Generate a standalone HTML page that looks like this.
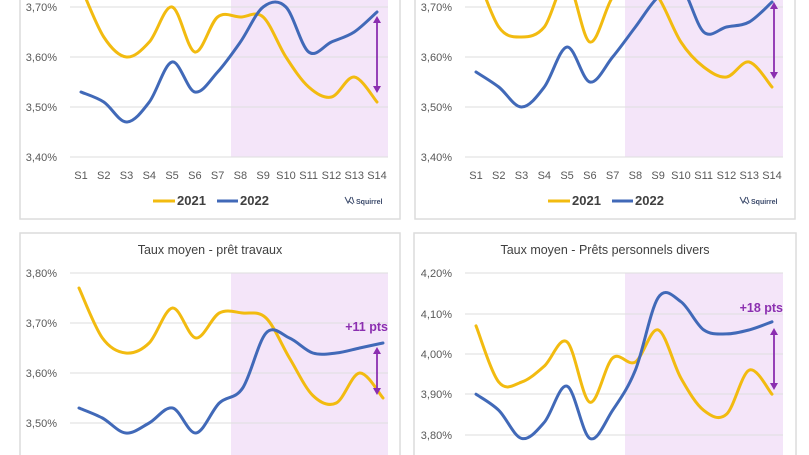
<!DOCTYPE html>
<html><head><meta charset="utf-8"><style>
html,body{margin:0;padding:0;background:#fff;}
svg{display:block;font-family:"Liberation Sans",sans-serif;}
</style></head><body>
<svg id="s" width="809" height="455" viewBox="0 0 809 455" xmlns="http://www.w3.org/2000/svg"></svg>
<script>
const S=document.getElementById('s');let h='';
const Y='#f2bb10',B='#4169b8',P='#8b2fb0';
function path(pts){let d='M'+pts[0][0]+','+pts[0][1];for(let i=0;i<pts.length-1;i++){const p0=pts[i-1]||pts[i],p1=pts[i],p2=pts[i+1],p3=pts[i+2]||p2;const c1=[p1[0]+(p2[0]-p0[0])/6,p1[1]+(p2[1]-p0[1])/6],c2=[p2[0]-(p3[0]-p1[0])/6,p2[1]-(p3[1]-p1[1])/6];d+=` C${c1[0].toFixed(1)},${c1[1].toFixed(1)} ${c2[0].toFixed(1)},${c2[1].toFixed(1)} ${p2[0]},${p2[1].toFixed(1)}`;}return d;}
function panel(o){
 h+=`<rect x="${o.bx}" y="${o.by}" width="${o.bw}" height="${o.bh}" fill="#fff" stroke="#dcdcdc" stroke-width="1.5"/>`;
 h+=`<rect x="${o.sx}" y="${o.st}" width="${o.px1-o.sx}" height="${o.sb-o.st}" fill="#f4e5f9"/>`;
 o.grid.forEach(g=>{h+=`<line x1="${o.px0}" x2="${o.px1}" y1="${g[1]}" y2="${g[1]}" stroke="#dedede" stroke-width="1"/>`;h+=`<text x="${o.lx}" y="${g[1]+4}" font-size="11" fill="#595959" text-anchor="end">${g[0]}</text>`;});
 if(o.title)h+=`<text x="${o.tx}" y="${o.ty}" font-size="12.5" fill="#404040" text-anchor="middle">${o.title}</text>`;
 const xs=i=>o.x0+i*(o.x1-o.x0)/13;
 if(o.xl){for(let i=0;i<14;i++)h+=`<text x="${xs(i)}" y="${o.xl}" font-size="11" fill="#595959" text-anchor="middle">S${i+1}</text>`;
  const ly=o.xl+26;
  h+=`<line x1="${o.bx+133}" x2="${o.bx+155}" y1="${ly-4}" y2="${ly-4}" stroke="${Y}" stroke-width="3"/><text x="${o.bx+157}" y="${ly}" font-size="13" font-weight="bold" fill="#404040">2021</text>`;
  h+=`<line x1="${o.bx+197}" x2="${o.bx+218}" y1="${ly-4}" y2="${ly-4}" stroke="${B}" stroke-width="3"/><text x="${o.bx+220}" y="${ly}" font-size="13" font-weight="bold" fill="#404040">2022</text>`;
  h+=`<text x="${o.bx+336}" y="${ly-1}" font-size="7" font-weight="bold" fill="#3b4a6b">Squirrel</text><path d="M${o.bx+325},${ly-8} l3,6 l3,-6 M${o.bx+329},${ly-4} l4,3 M${o.bx+332},${ly-8} l2,6" stroke="#3b4a6b" fill="none" stroke-width="1"/>`;}
 const yv=v=>o.yb+(v-o.vb)*o.k;
 h+=`<path d="${path(o.a.map((v,i)=>[xs(i),yv(v)]))}" fill="none" stroke="${Y}" stroke-width="3" stroke-linecap="round"/>`;
 h+=`<path d="${path(o.b.map((v,i)=>[xs(i),yv(v)]))}" fill="none" stroke="${B}" stroke-width="3" stroke-linecap="round"/>`;
 h+=`<line x1="${o.ax}" x2="${o.ax}" y1="${o.ay0+5}" y2="${o.ay1-5}" stroke="${P}" stroke-width="1.8"/><path d="M${o.ax-4},${o.ay0+7} L${o.ax},${o.ay0} L${o.ax+4},${o.ay0+7}Z M${o.ax-4},${o.ay1-7} L${o.ax},${o.ay1} L${o.ax+4},${o.ay1-7}Z" fill="${P}"/>`;
 if(o.pts)h+=`<text x="${o.px1}" y="${o.ptsy}" font-size="12.5" font-weight="bold" fill="${P}" text-anchor="end">${o.pts}</text>`;
}
panel({bx:20,by:-20,bw:380,bh:239,sx:231,st:0,sb:157,px0:70,px1:388,lx:57,grid:[['3,70%',7],['3,60%',57],['3,50%',107],['3,40%',157]],x0:81,x1:377,xl:179,yb:57,vb:3.60,k:-500,
 a:[3.74,3.64,3.60,3.63,3.70,3.61,3.68,3.68,3.68,3.60,3.54,3.52,3.56,3.51],b:[3.53,3.51,3.47,3.51,3.59,3.53,3.57,3.63,3.70,3.70,3.61,3.63,3.65,3.69],ax:377,ay0:16,ay1:93});
panel({bx:415,by:-20,bw:380,bh:239,sx:625,st:0,sb:157,px0:465,px1:783,lx:452,grid:[['3,70%',7],['3,60%',57],['3,50%',107],['3,40%',157]],x0:476,x1:772,xl:179,yb:57,vb:3.60,k:-500,
 a:[3.77,3.66,3.64,3.66,3.75,3.63,3.72,3.76,3.72,3.63,3.58,3.56,3.59,3.54],b:[3.57,3.54,3.50,3.54,3.62,3.55,3.60,3.66,3.72,3.74,3.65,3.66,3.67,3.71],ax:774,ay0:2,ay1:79});
panel({bx:20,by:233,bw:380,bh:240,sx:231,st:273,sb:455,px0:70,px1:388,lx:57,grid:[['3,80%',273],['3,70%',323],['3,60%',373],['3,50%',423]],x0:79,x1:383,title:'Taux moyen - prêt travaux',tx:210,ty:254,yb:373,vb:3.60,k:-500,
 a:[3.77,3.67,3.64,3.66,3.73,3.67,3.72,3.72,3.71,3.63,3.555,3.54,3.60,3.55],b:[3.53,3.51,3.48,3.50,3.53,3.48,3.54,3.57,3.68,3.67,3.64,3.64,3.65,3.66],ax:377,ay0:347,ay1:395,pts:'+11 pts',ptsy:331});
panel({bx:414,by:233,bw:382,bh:240,sx:625,st:273,sb:455,px0:465,px1:783,lx:452,grid:[['4,20%',273],['4,10%',314],['4,00%',354],['3,90%',394],['3,80%',435]],x0:476,x1:772,title:'Taux moyen - Prêts personnels divers',tx:605,ty:254,yb:354,vb:4.00,k:-402,
 a:[4.07,3.93,3.93,3.97,4.03,3.88,3.99,3.98,4.06,3.94,3.86,3.85,3.96,3.90],b:[3.90,3.86,3.79,3.83,3.92,3.79,3.86,3.96,4.14,4.13,4.06,4.05,4.06,4.08],ax:774,ay0:328,ay1:390,pts:'+18 pts',ptsy:312});
S.innerHTML=h;
</script>
</body></html>
